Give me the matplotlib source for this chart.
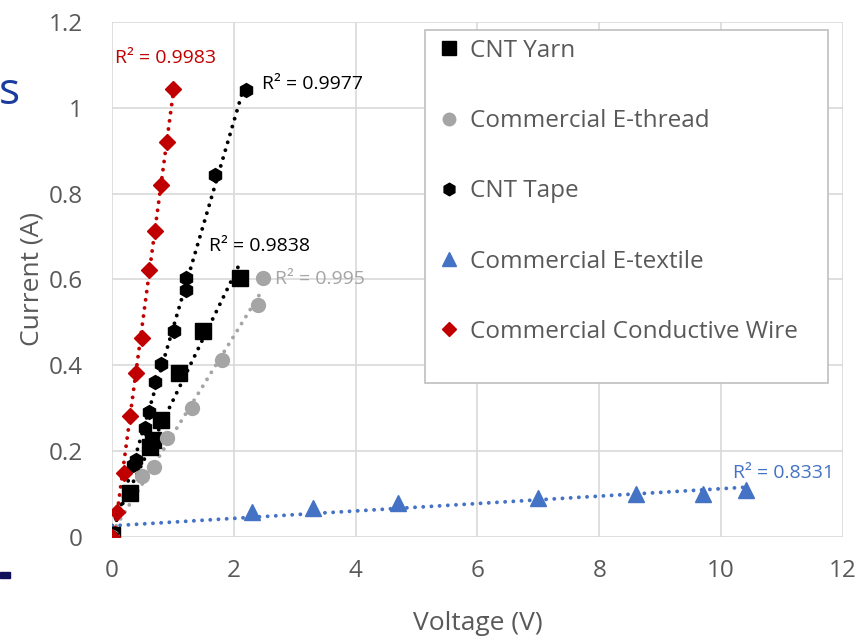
import numpy as np
import matplotlib.pyplot as plt

plt.rcParams['font.family'] = ['Open Sans', 'DejaVu Sans']

# datos (Voltaje V, Corriente A)
yarn_v = [0, 0.3, 0.62, 0.68, 0.8, 1.1, 1.5, 2.1]
yarn_i = [0.005, 0.102, 0.21, 0.225, 0.273, 0.381, 0.481, 0.603]

thread_v = [0, 0.5, 0.69, 0.9, 1.31, 1.81, 2.4, 2.48]
thread_i = [0, 0.141, 0.162, 0.23, 0.30, 0.413, 0.541, 0.603]

tape_v = [0, 0.35, 0.40, 0.54, 0.60, 0.70, 0.80, 1.02, 1.21, 1.21, 1.69, 2.2]
tape_i = [0, 0.168, 0.18, 0.254, 0.292, 0.362, 0.403, 0.481, 0.576, 0.603, 0.844, 1.042]

textile_v = [0, 2.3, 3.3, 4.7, 7.0, 8.6, 9.7, 10.4]
textile_i = [0, 0.058, 0.068, 0.079, 0.091, 0.10, 0.10, 0.11]

wire_v = [0, 0.09, 0.19, 0.30, 0.40, 0.50, 0.61, 0.70, 0.80, 0.90, 1.00]
wire_i = [0, 0.059, 0.15, 0.282, 0.381, 0.463, 0.622, 0.712, 0.82, 0.921, 1.044]

series = [
    ('CNT Yarn', yarn_v, yarn_i, 's', 'black', 11),
    ('Commercial E-thread', thread_v, thread_i, 'o', '#a5a5a5', 10),
    ('CNT Tape', tape_v, tape_i, 'h', 'black', 10),
    ('Commercial E-textile', textile_v, textile_i, '^', '#4472c4', 11),
    ('Commercial Conductive Wire', wire_v, wire_i, 'D', '#c00000', 8),
]

r2_labels = ['R² = 0.9838', 'R² = 0.995', 'R² = 0.9977', 'R² = 0.8331', 'R² = 0.9983']
r2_pos = [(1.6, 0.678), (2.67, 0.60), (2.46, 1.055), (10.2, 0.149), (0.05, 1.117)]

grey_txt = '#595959'

fig = plt.figure(figsize=(8.58, 6.36), dpi=100)
ax = fig.add_axes([0.1305, 0.1557, 0.852, 0.8097])

for (name, v, i, mk, col, ms), lab, pos in zip(series, r2_labels, r2_pos):
    v = np.array(v)
    i = np.array(i)
    # linea de tendencia lineal punteada
    m, b = np.polyfit(v, i, 1)
    xs = np.array([v.min(), v.max()])
    ax.plot(xs, m * xs + b, color=col, linewidth=2.8, linestyle=(0, (0.01, 2.1)),
            dash_capstyle='round', zorder=2)
    ax.plot(v, i, linestyle='none', marker=mk, color=col, markersize=ms,
            label=name, zorder=3)
    ax.text(pos[0], pos[1], lab, color=col, fontsize=14, ha='left', va='center')

ax.set_xlim(0, 12)
ax.set_ylim(0, 1.2)
ax.set_xticks(np.arange(0, 13, 2))
ax.set_yticks([0, 0.2, 0.4, 0.6, 0.8, 1.0, 1.2])
ax.set_yticklabels(['0', '0.2', '0.4', '0.6', '0.8', '1', '1.2'])
ax.grid(True, color='#d9d9d9', linewidth=1.2)
ax.set_axisbelow(True)
for s in ax.spines.values():
    s.set_visible(False)
ax.tick_params(length=0, labelsize=17.5, colors=grey_txt)
ax.tick_params(axis='x', pad=16)
ax.tick_params(axis='y', pad=21)

ax.set_xlabel('Voltage (V)', fontsize=19, color=grey_txt, labelpad=20)
ax.set_ylabel('Current (A)', fontsize=19, color=grey_txt, labelpad=3)

# marco de la leyenda
marco = plt.Rectangle((0.428, 0.299), 0.5515, 0.685, transform=ax.transAxes,
                      facecolor='white', edgecolor='#bfbfbf', linewidth=1.2, zorder=4)
ax.add_patch(marco)

leg = ax.legend(loc='upper left', bbox_to_anchor=(0.4405, 0.967), borderaxespad=0,
                fontsize=17.5, labelspacing=1.9, handletextpad=0.3, borderpad=0,
                frameon=False, handlelength=1.2, markerscale=0.9)
leg.set_zorder(5)
for t in leg.get_texts():
    t.set_color(grey_txt)

# restos del titulo de la diapositiva
fig.text(0.0233, 1 - 104 / 636, 's', fontsize=32, color='#1a3c9c', ha='right', va='baseline')
fig.add_artist(plt.Rectangle((0, 1 - 578 / 636), 10 / 858, 6 / 636,
                             transform=fig.transFigure, color='#10105a'))

fig.savefig('out.png', dpi=100)
